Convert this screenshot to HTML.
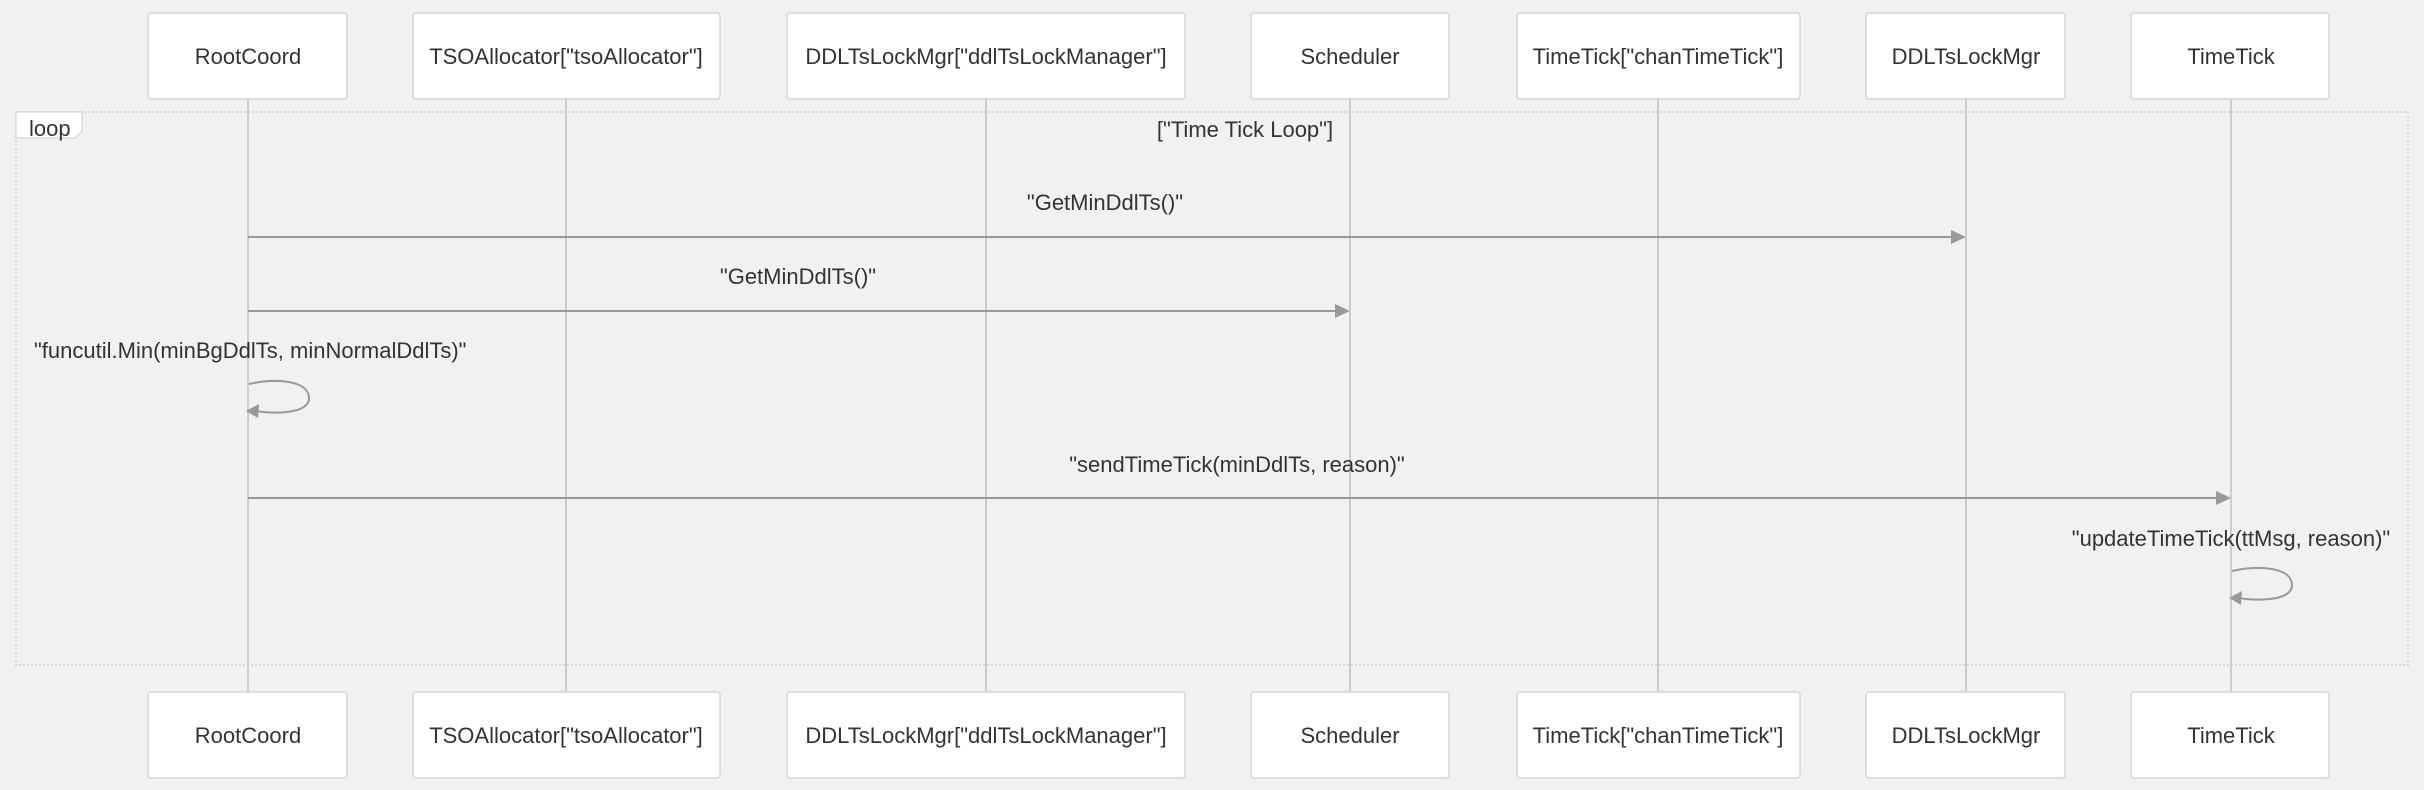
<!DOCTYPE html>
<html><head><meta charset="utf-8"><style>
html,body{margin:0;padding:0;background:#f2f1f0;}
svg{display:block;}
text{font-family:"Liberation Sans",Arial,sans-serif;font-size:22px;fill:#333;}
</style></head><body>
<svg width="2424" height="790" viewBox="0 0 2424 790" xmlns="http://www.w3.org/2000/svg">
<rect width="2424" height="790" fill="#f2f1f0"/>
<g stroke="#cccccc" stroke-width="2">
<line x1="248" y1="99" x2="248" y2="692"/>
<line x1="566" y1="99" x2="566" y2="692"/>
<line x1="986" y1="99" x2="986" y2="692"/>
<line x1="1350" y1="99" x2="1350" y2="692"/>
<line x1="1658" y1="99" x2="1658" y2="692"/>
<line x1="1966" y1="99" x2="1966" y2="692"/>
<line x1="2231" y1="99" x2="2231" y2="692"/>
</g>
<rect x="16" y="112" width="2392" height="553" fill="none" stroke="#cfcfcf" stroke-width="1.5" stroke-dasharray="2,2"/>
<path d="M16 112 H82 V131 L75 138 H16 Z" fill="#fff" stroke="#cfcfcf" stroke-width="1"/>
<text x="29" y="136">loop</text>
<text x="1245" y="137" text-anchor="middle">["Time Tick Loop"]</text>
<g fill="#fff" stroke="#d6d6d6" stroke-width="1.5">
<rect x="148" y="13" width="199" height="86" rx="3"/>
<rect x="413" y="13" width="307" height="86" rx="3"/>
<rect x="787" y="13" width="398" height="86" rx="3"/>
<rect x="1251" y="13" width="198" height="86" rx="3"/>
<rect x="1517" y="13" width="283" height="86" rx="3"/>
<rect x="1866" y="13" width="199" height="86" rx="3"/>
<rect x="2131" y="13" width="198" height="86" rx="3"/>
<rect x="148" y="692" width="199" height="86" rx="3"/>
<rect x="413" y="692" width="307" height="86" rx="3"/>
<rect x="787" y="692" width="398" height="86" rx="3"/>
<rect x="1251" y="692" width="198" height="86" rx="3"/>
<rect x="1517" y="692" width="283" height="86" rx="3"/>
<rect x="1866" y="692" width="199" height="86" rx="3"/>
<rect x="2131" y="692" width="198" height="86" rx="3"/>
</g>
<g text-anchor="middle">
<text x="248" y="64">RootCoord</text>
<text x="566" y="64">TSOAllocator["tsoAllocator"]</text>
<text x="986" y="64">DDLTsLockMgr["ddlTsLockManager"]</text>
<text x="1350" y="64">Scheduler</text>
<text x="1658" y="64">TimeTick["chanTimeTick"]</text>
<text x="1966" y="64">DDLTsLockMgr</text>
<text x="2231" y="64">TimeTick</text>
<text x="248" y="743">RootCoord</text>
<text x="566" y="743">TSOAllocator["tsoAllocator"]</text>
<text x="986" y="743">DDLTsLockMgr["ddlTsLockManager"]</text>
<text x="1350" y="743">Scheduler</text>
<text x="1658" y="743">TimeTick["chanTimeTick"]</text>
<text x="1966" y="743">DDLTsLockMgr</text>
<text x="2231" y="743">TimeTick</text>
</g>
<g stroke="#999" stroke-width="2" fill="none">
<line x1="248" y1="237" x2="1952" y2="237"/>
<line x1="248" y1="311" x2="1336" y2="311"/>
<line x1="248" y1="498" x2="2217" y2="498"/>
<path d="M249 384 C 275 378, 309 380, 309 398 C 309 414, 275 414, 256 411"/>
<path d="M2232 571 C 2258 565, 2292 567, 2292 585 C 2292 601, 2258 601, 2239 598"/>
</g>
<g fill="#999">
<path d="M1966 237 L1951 230 L1951 244 Z"/>
<path d="M1350 311 L1335 304 L1335 318 Z"/>
<path d="M2231 498 L2216 491 L2216 505 Z"/>
<path d="M246 411 L259 404 L258 418 Z"/>
<path d="M2229 598 L2242 591 L2241 605 Z"/>
</g>
<g text-anchor="middle">
<text x="1105" y="210">"GetMinDdlTs()"</text>
<text x="798" y="284">"GetMinDdlTs()"</text>
<text x="1237" y="472">"sendTimeTick(minDdlTs, reason)"</text>
<text x="2231" y="546">"updateTimeTick(ttMsg, reason)"</text>
</g>
<text x="34" y="358">"funcutil.Min(minBgDdlTs, minNormalDdlTs)"</text>
</svg>
</body></html>
